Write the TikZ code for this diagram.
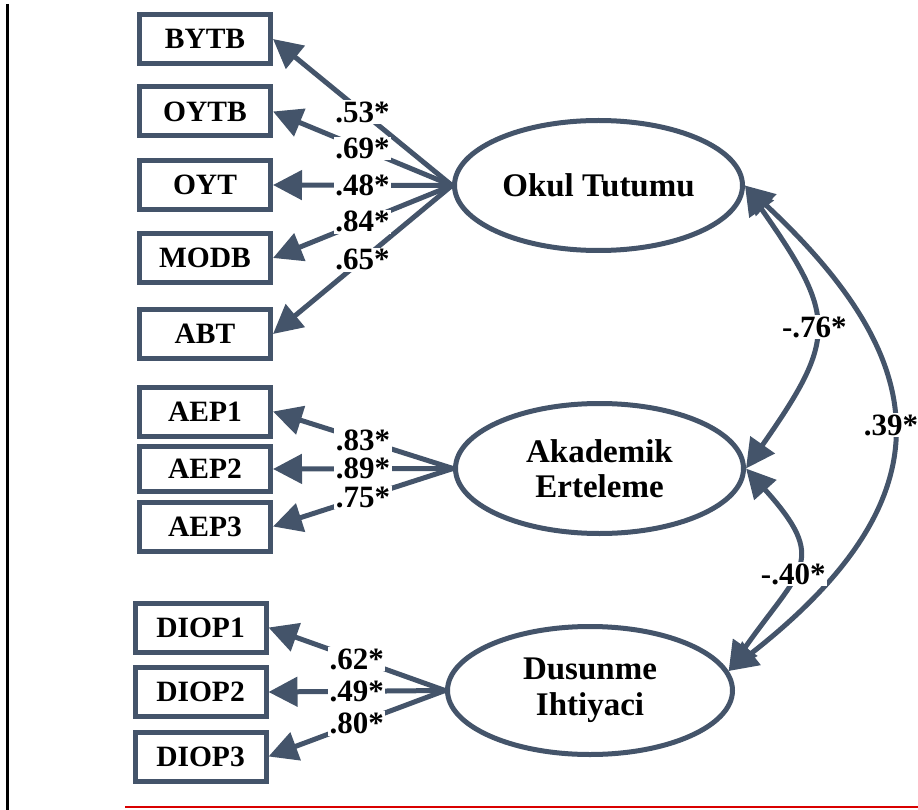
\documentclass[tikz,border=0pt]{standalone}
\usepackage{fontspec}
\setmainfont{Liberation Serif}
\usetikzlibrary{arrows.meta,shapes.geometric}
\definecolor{ink}{RGB}{68,84,106}
\begin{document}
\begin{tikzpicture}[x=1pt,y=1pt,
  box/.style={draw=ink,line width=5pt,fill=white,minimum width=131pt,minimum height=49pt,inner sep=0pt,font=\fontsize{29.5}{33}\selectfont\bfseries},
  lat/.style={ellipse,draw=ink,line width=5pt,fill=white,minimum width=288pt,minimum height=130pt,inner sep=0pt,align=center,font=\fontsize{33}{35.5}\selectfont\bfseries},
  ld/.style={draw=ink,line width=5pt,-{Triangle[length=29pt,width=29pt]}},
  cv/.style={draw=ink,line width=5pt,{Triangle[length=29pt,width=29pt]}-{Triangle[length=29pt,width=29pt]}},
  lab/.style={fill=white,inner sep=1.5pt,font=\fontsize{31}{32}\selectfont\bfseries}
]
\useasboundingbox (0,0) rectangle (918,-810);
% frame lines
\coordinate (vt) at (7,-4);
\coordinate (vb) at (7,-810);
\draw[line width=3pt,black] (vt) -- (vb);
\coordinate (hl) at (125,-807);
\coordinate (hr) at (918,-807);
\draw[line width=2pt,red!85!black] (hl) -- (hr);

% observed variables
\node[box] (bytb) at (205,-39) {BYTB};
\node[box] (oytb) at (205,-111.5) {OYTB};
\node[box] (oyt)  at (205,-185) {OYT};
\node[box] (modb) at (205,-258) {MODB};
\node[box] (abt)  at (205,-334) {ABT};
\node[box] (aep1) at (205,-411.5) {AEP1};
\node[box,minimum height=45pt] (aep2) at (205,-469) {AEP2};
\node[box] (aep3) at (205,-526.5) {AEP3};
\node[box] (diop1) at (200.5,-627.5) {DIOP1};
\node[box] (diop2) at (200.5,-692) {DIOP2};
\node[box] (diop3) at (200.5,-756.5) {DIOP3};

% latent variables
\node[lat] (okul) at (598.5,-185.5) {Okul Tutumu};
\node[lat] (akad) at (599.5,-468.5) {Akademik\\Erteleme};
\node[lat,minimum width=285pt,minimum height=128pt] (dus) at (590,-690.5) {Dusunme\\Ihtiyaci};

% loadings
\draw[ld] (okul.west) -- (bytb.east);
\draw[ld] (okul.west) -- (oytb.east);
\draw[ld] (okul.west) -- (oyt.east);
\draw[ld] (okul.west) -- (modb.east);
\draw[ld] (okul.west) -- (abt.east);
\draw[ld] (akad.west) -- (aep1.east);
\draw[ld] (akad.west) -- (aep2.east);
\draw[ld] (akad.west) -- (aep3.east);
\draw[ld] (dus.west) -- (diop1.east);
\draw[ld] (dus.west) -- (diop2.east);
\draw[ld] (dus.west) -- (diop3.east);

% correlations
\draw[cv] (okul.east) .. controls +(-55:160) and +(55:160) .. (akad.east);
\draw[cv] (okul.east) .. controls +(-43:250) and +(38:290) .. (dus.8);
\draw[cv] (akad.east) .. controls +(-48:125) and +(55:125) .. (dus.8);

% labels
\path (okul.west) -- node[lab]{.53*} (bytb.east);
\path (okul.west) -- node[lab]{.69*} (oytb.east);
\path (okul.west) -- node[lab]{.48*} (oyt.east);
\path (okul.west) -- node[lab]{.84*} (modb.east);
\path (okul.west) -- node[lab]{.65*} (abt.east);
\path (akad.west) -- node[lab]{.83*} (aep1.east);
\path (akad.west) -- node[lab]{.89*} (aep2.east);
\path (akad.west) -- node[lab]{.75*} (aep3.east);
\path (dus.west) -- node[lab]{.62*} (diop1.east);
\path (dus.west) -- node[lab]{.49*} (diop2.east);
\path (dus.west) -- node[lab]{.80*} (diop3.east);
\path (okul.east) .. controls +(-55:160) and +(55:160) .. node[lab,pos=0.5]{-.76*} (akad.east);
\path (okul.east) .. controls +(-43:250) and +(38:290) .. node[lab,pos=0.5]{.39*} (dus.8);
\path (akad.east) .. controls +(-48:125) and +(55:125) .. node[lab,pos=0.55]{-.40*} (dus.8);
\end{tikzpicture}
\end{document}
